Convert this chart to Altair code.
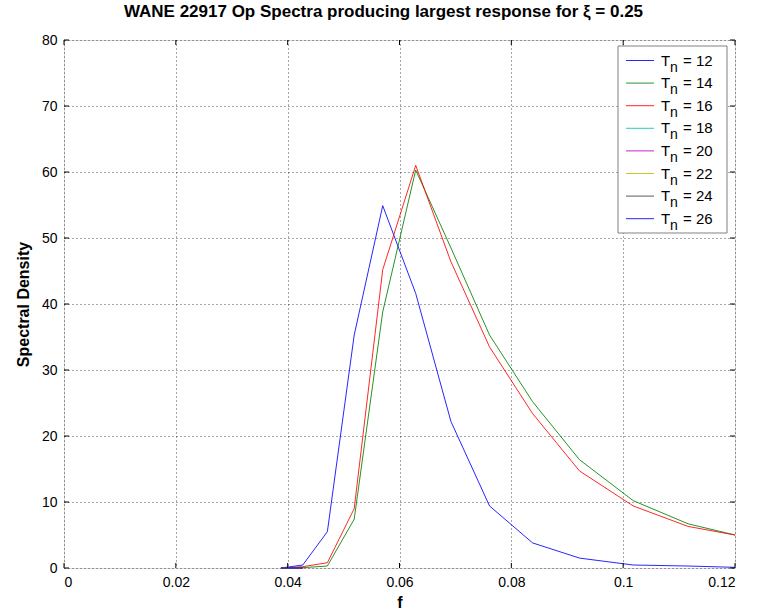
import altair as alt
import pandas as pd

# Frequency grid (Hz) and spectral density of each operating spectrum
freq = [0.0388, 0.0427, 0.0471, 0.0519, 0.0570, 0.0629, 0.0692, 0.0761,
        0.0838, 0.0922, 0.1018, 0.1116, 0.1200]
tn12 = [0.0, 0.45, 5.5, 35.3, 54.9, 41.6, 22.2, 9.4, 3.8, 1.5, 0.45, 0.3, 0.1]
tn14 = [0.0, 0.05, 0.3, 7.4, 38.8, 60.3, 48.5, 35.3, 25.2, 16.4, 10.2, 6.7, 5.0]
tn16 = [0.0, 0.2, 0.8, 9.0, 45.2, 61.0, 46.4, 33.5, 23.4, 14.7, 9.4, 6.3, 5.0]
# remaining periods only register at the lowest frequencies
tn_low = [0.0, 0.0]

periods = ["12", "14", "16", "18", "20", "22", "24", "26"]
colors = ["#0000ff", "#008000", "#ff0000", "#00bfbf", "#bf00bf", "#bfbf00",
          "#404040", "#0000ff"]
series = {"12": tn12, "14": tn14, "16": tn16}

rows = []
for p in periods:
    vals = series.get(p, tn_low)
    for f, s in zip(freq, vals):
        rows.append({"f": f, "S": s, "Tn": p})
df = pd.DataFrame(rows)

x_ticks = [0, 0.02, 0.04, 0.06, 0.08, 0.1, 0.12]
y_ticks = [0, 10, 20, 30, 40, 50, 60, 70, 80]

W, H = 671, 528
FONT = "Liberation Sans"

color_scale = alt.Scale(domain=periods, range=colors)

xs = alt.Scale(domain=[0, 0.12], nice=False, zero=False)
ys = alt.Scale(domain=[0, 80], nice=False)

x_axis = alt.Axis(values=x_ticks, format="~g", grid=True, gridDash=[1, 3],
                  gridColor="#000000", gridOpacity=0.7, ticks=False, domain=False,
                  labelFont=FONT, labelFontSize=14, labelColor="#000000",
                  labelPadding=7, title="f", titleFont=FONT, titleFontSize=16,
                  titleFontWeight="bold", titlePadding=5, titleColor="#000000")
y_axis = alt.Axis(values=y_ticks, grid=True, gridDash=[1, 3],
                  gridColor="#000000", gridOpacity=0.7, ticks=False, domain=False,
                  labelFont=FONT, labelFontSize=14, labelColor="#000000",
                  labelPadding=7, title="Spectral Density", titleFont=FONT,
                  titleFontSize=16, titleFontWeight="bold", titlePadding=10,
                  titleColor="#000000")

lines = alt.Chart(df).mark_line(strokeWidth=1, opacity=0.85).encode(
    x=alt.X("f:Q", scale=xs, axis=x_axis),
    y=alt.Y("S:Q", scale=ys, axis=y_axis),
    color=alt.Color("Tn:N", scale=color_scale, legend=None),
    detail="Tn:N",
)

# inward tick marks on all four sides of the box
xt = pd.DataFrame({"v": x_ticks})
yt = pd.DataFrame({"v": y_ticks})
tick_style = dict(color="#000000", strokeWidth=1)
bottom_ticks = alt.Chart(xt).mark_rule(**tick_style).encode(
    x=alt.X("v:Q", scale=xs), y=alt.value(H), y2=alt.value(H - 5))
top_ticks = alt.Chart(xt).mark_rule(**tick_style).encode(
    x=alt.X("v:Q", scale=xs), y=alt.value(0), y2=alt.value(5))
left_ticks = alt.Chart(yt).mark_rule(**tick_style).encode(
    y=alt.Y("v:Q", scale=ys), x=alt.value(0), x2=alt.value(5))
right_ticks = alt.Chart(yt).mark_rule(**tick_style).encode(
    y=alt.Y("v:Q", scale=ys), x=alt.value(W), x2=alt.value(W - 5))

# legend box drawn inside the plot area
leg = pd.DataFrame({"Tn": periods, "i": list(range(len(periods)))})
leg_box = alt.Chart(pd.DataFrame({"a": [0]})).mark_rect(
    fill="#ffffff", stroke="#808080", strokeWidth=1).encode(
    x=alt.value(554), x2=alt.value(663), y=alt.value(6), y2=alt.value(193))
leg_base = alt.Chart(leg).transform_calculate(ly="20.5 + datum.i * 22.6")
leg_lines = leg_base.mark_rule(strokeWidth=1, opacity=0.85).encode(
    x=alt.value(562), x2=alt.value(590),
    y=alt.Y("ly:Q", scale=None),
    color=alt.Color("Tn:N", scale=color_scale, legend=None))
leg_T = leg_base.mark_text(text="T", align="left", baseline="middle", font=FONT,
                           fontSize=15, color="#000000").encode(
    x=alt.value(597), y=alt.Y("ly:Q", scale=None))
leg_n = leg_base.mark_text(text="n", align="left", baseline="middle", font=FONT,
                           fontSize=14, dy=7, color="#000000").encode(
    x=alt.value(606), y=alt.Y("ly:Q", scale=None))
leg_val = leg_base.transform_calculate(lab="'= ' + datum.Tn").mark_text(
    align="left", baseline="middle", font=FONT, fontSize=15, color="#000000").encode(
    x=alt.value(619), y=alt.Y("ly:Q", scale=None), text="lab:N")

chart = alt.layer(
    lines, bottom_ticks, top_ticks, left_ticks, right_ticks,
    leg_box, leg_lines, leg_T, leg_n, leg_val,
).properties(
    width=W, height=H,
    title=alt.TitleParams(
        "WANE 22917 Op Spectra producing largest response for \u03be = 0.25",
        font=FONT, fontSize=17, fontWeight="bold", color="#000000",
        anchor="middle", dx=-16, offset=12),
    autosize=alt.AutoSizeParams(type="none"),
    padding={"left": 64, "top": 40, "right": 25, "bottom": 46},
).configure_view(
    stroke="#808080", strokeWidth=1
).configure(background="#ffffff")

chart.save("out.html", embed_options={"renderer": "svg", "actions": False})
